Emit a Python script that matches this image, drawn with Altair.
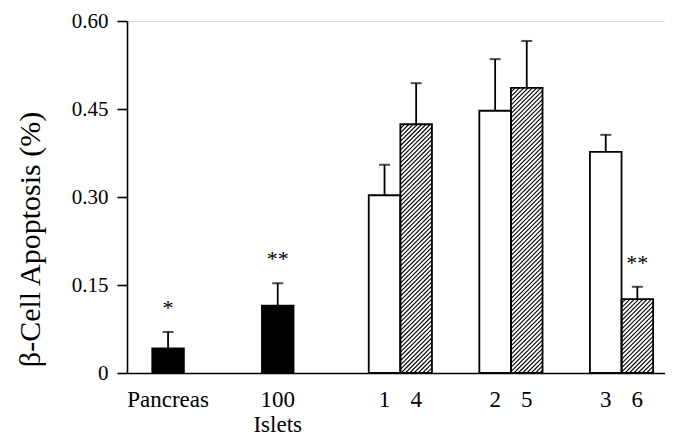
import altair as alt
import pandas as pd

# ---- data ----
labels = ["Pancreas", "100\nIslets", "1", "4", "2", "5", "3", "6"]
values = [0.042, 0.115, 0.303, 0.424, 0.447, 0.486, 0.377, 0.126]
errors = [0.028, 0.038, 0.052, 0.070, 0.088, 0.080, 0.029, 0.021]
styles = ["solid", "solid", "open", "hatched", "open", "hatched", "open", "hatched"]
marks = ["*", "**", "", "", "", "", "", "**"]
groups = [0, 1, 2, 2, 3, 3, 4, 4]
y_ticks = [0, 0.15, 0.30, 0.45, 0.60]

# ---- layout constants (pixels / bar units) ----
W, H = 538, 352
Y_MAX = 0.60
PXU = 31.6                 # px per bar-width unit on x
PXV = H / Y_MAX            # px per value unit on y
X_MAX = W / PXU
GAPS = [0.8, 2.47, 2.38, 1.5, 1.5]   # gap (bar units) before each group
HATCH_STEP = 4.3           # px between hatch lines (horizontal)
FONT = "Liberation Serif"

# positions of bars from group layout
lefts = []
pos = 0.0
prev_group = None
for g in groups:
    if g != prev_group:
        pos += GAPS[g]
        prev_group = g
    lefts.append(pos)
    pos += 1.0

df = pd.DataFrame({
    "label": labels, "value": values, "err": errors, "style": styles,
    "mark": marks, "left": lefts,
})
df["right"] = df["left"] + 1.0
df["center"] = df["left"] + 0.5
df["top"] = df["value"] + df["err"]

# hatch segments for hatched bars, derived from the bar values
segs = []
for _, r in df[df["style"] == "hatched"].iterrows():
    w = PXU
    h = r["value"] * PXV
    c = -h
    while c < w:
        xs = max(0.0, c)
        xe = min(w, h + c)
        if xe > xs:
            segs.append({
                "x1": r["left"] + xs / PXU, "y1": (xs - c) / PXV,
                "x2": r["left"] + xe / PXU, "y2": (xe - c) / PXV,
            })
        c += HATCH_STEP
hatch = pd.DataFrame(segs)

xs = alt.Scale(domain=[0, X_MAX], nice=False, zero=False)
ys = alt.Scale(domain=[0, Y_MAX], nice=False)

base = alt.Chart(df)

x_axis = alt.Axis(title=None, labels=False, ticks=False, grid=False,
                  domainColor="black", domainWidth=1.6)
y_axis = alt.Axis(
    title="β-Cell Apoptosis (%)", values=y_ticks, grid=False,
    labelExpr="datum.value == 0 ? '0' : format(datum.value, '.2f')",
    domainColor="black", domainWidth=1.6, tickColor="black", tickWidth=1.6,
    tickSize=10, labelFont=FONT, labelFontSize=21,
    labelColor="black", labelPadding=9,
    titleFont=FONT, titleFontSize=30, titleFontWeight="normal",
    titleColor="black", titleAngle=270, titleX=-97, titleY=218,
    titleAlign="center", titleBaseline="middle",
)

fill_bars = base.mark_bar(stroke=None).encode(
    x=alt.X("left:Q", scale=xs, axis=x_axis),
    x2="right:Q",
    y=alt.Y("value:Q", scale=ys, axis=y_axis),
    y2=alt.datum(0),
    fill=alt.Fill("style:N", scale=alt.Scale(domain=["solid", "open", "hatched"],
                                            range=["black", "white", "white"]),
                  legend=None),
)

hatch_lines = alt.Chart(hatch).mark_rule(color="black", strokeWidth=1.1).encode(
    x=alt.X("x1:Q", scale=xs), y=alt.Y("y1:Q", scale=ys),
    x2="x2:Q", y2="y2:Q",
)

outline = base.mark_bar(fillOpacity=0, stroke="black", strokeWidth=1.8).encode(
    x=alt.X("left:Q", scale=xs), x2="right:Q",
    y=alt.Y("value:Q", scale=ys), y2=alt.datum(0),
)

err_lines = base.mark_rule(color="black", strokeWidth=1.8).encode(
    x=alt.X("center:Q", scale=xs),
    y=alt.Y("value:Q", scale=ys), y2="top:Q",
)

err_caps = base.mark_tick(color="black", orient="horizontal", size=11,
                          thickness=2).encode(
    x=alt.X("center:Q", scale=xs),
    y=alt.Y("top:Q", scale=ys),
)

stars = base.mark_text(font=FONT, fontSize=22, baseline="middle",
                       dy=-24, color="black").encode(
    x=alt.X("center:Q", scale=xs),
    y=alt.Y("top:Q", scale=ys),
    text="mark:N",
)

xlabels = base.mark_text(font=FONT, fontSize=23,
                         baseline="alphabetic", dy=34, lineBreak="\n",
                         lineHeight=25, color="black").encode(
    x=alt.X("center:Q", scale=xs),
    y=alt.datum(0, scale=ys),
    text="label:N",
)

chart = alt.layer(
    fill_bars, hatch_lines, outline, err_lines, err_caps, stars, xlabels
).properties(
    width=W, height=H,
    padding={"left": 119, "top": 13, "right": 0, "bottom": 65},
    autosize="none",
).configure_view(stroke=None).configure(background="white")

chart.save("out.html", embed_options={"renderer": "svg", "actions": False})
